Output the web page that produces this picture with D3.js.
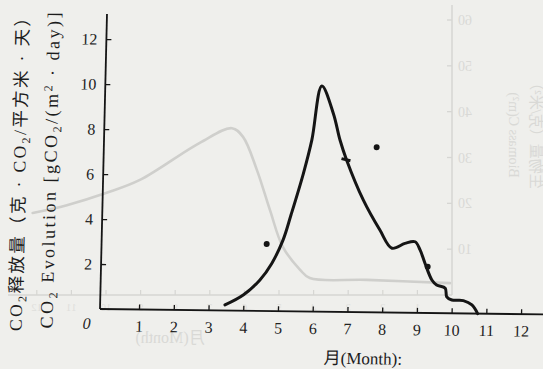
<!DOCTYPE html>
<html>
<head>
<meta charset="utf-8">
<script src="https://cdn.jsdelivr.net/npm/d3@7"></script>
<style>
  html, body { margin: 0; padding: 0; background: #efefec; }
  svg { display: block; }
</style>
</head>
<body>
<svg id="chart" width="543" height="369"></svg>
<script>
// CO2 evolution through the year (month, gCO2 per m² per day)
const evolutionMonths = [3.47, 3.99, 4.46, 4.79, 5.10, 5.31, 5.64, 5.86, 6.11, 6.46, 6.67, 6.87, 7.38, 7.88, 8.24, 8.61, 8.90, 9.05, 9.20, 9.41, 9.55, 9.80, 9.85, 10.0, 10.33, 10.58, 10.75];
const evolutionValues = [0.25, 0.70, 1.38, 2.12, 3.17, 4.28, 6.14, 7.63, 10.03, 8.82, 7.64, 6.77, 4.99, 3.66, 2.86, 3.08, 3.16, 2.80, 2.21, 1.47, 1.25, 1.11, 0.73, 0.59, 0.57, 0.38, 0.0];

// Separate single readings
const pointMonths = [4.63, 7.73, 9.28];
const pointValues = [2.98, 7.34, 2.06];

// Reading marked with a short bar across the curve
const markMonths = [6.87];
const markValues = [6.77];

const xTicks = [1, 2, 3, 4, 5, 6, 7, 8, 9, 10, 11, 12];
const yTicks = [2, 4, 6, 8, 10, 12];

// Faint show-through from the reverse page: biomass curve (mirrored month axis)
const backMonths = [12.12, 11.13, 9.98, 9.02, 7.29, 6.36, 6.04, 5.64, 5.26, 4.89, 4.39, 4.11, 2.46, 0.06];
const backValues = [17.9, 19.6, 22.3, 25.1, 33.2, 36.4, 34.5, 27.3, 18.5, 10.5, 5.5, 3.7, 3.3, 2.6];
const backYTicks = [10, 20, 30, 40, 50, 60];
const backXTicks = [1, 2, 3, 4, 5, 6, 7, 8, 9, 10, 11, 12];

const svg = d3.select("#chart");
const W = 543, H = 369;
const serif = "'Liberation Serif', 'DejaVu Serif', serif";
const cjk = "'Liberation Serif', 'Noto Sans CJK SC', serif";
const ink = "#151515";

svg.append("rect").attr("width", W).attr("height", H).attr("fill", "#efefec");

// ---------- show-through layer ----------
const ghost = svg.append("g").attr("class", "ghost");
const gx = d3.scaleLinear().domain([0, 12]).range([452, 452 - 12 * 34.6]);
const gy = d3.scaleLinear().domain([0, 60]).range([295, 20]);
const ghostLine = "#d6d6d3", ghostText = "#d9d9d6";

ghost.append("line").attr("x1", 8).attr("x2", gx(0)).attr("y1", gy(0)).attr("y2", gy(0))
  .attr("stroke", ghostLine).attr("stroke-width", 1.3);
ghost.append("line").attr("x1", gx(0)).attr("x2", gx(0)).attr("y1", 5).attr("y2", gy(0))
  .attr("stroke", ghostLine).attr("stroke-width", 1.5);

ghost.selectAll("line.gyt").data(backYTicks).join("line").attr("class", "gyt")
  .attr("x1", gx(0) - 5).attr("x2", gx(0)).attr("y1", d => gy(d)).attr("y2", d => gy(d))
  .attr("stroke", ghostLine).attr("stroke-width", 1.3);
ghost.selectAll("text.gyl").data(backYTicks).join("text").attr("class", "gyl")
  .attr("transform", d => `translate(${gx(0) + 6},${gy(d) + 5}) scale(-1,1)`)
  .attr("text-anchor", "end").attr("font-family", serif).attr("font-size", 14)
  .attr("fill", ghostText).text(d => d);

ghost.selectAll("line.gxt").data(backXTicks).join("line").attr("class", "gxt")
  .attr("x1", d => gx(d)).attr("x2", d => gx(d)).attr("y1", gy(0) - 5).attr("y2", gy(0))
  .attr("stroke", ghostLine).attr("stroke-width", 1.2);
ghost.selectAll("text.gxl").data(backXTicks).join("text").attr("class", "gxl")
  .attr("transform", d => `translate(${gx(d)},${gy(0) + 16}) scale(-1,1)`)
  .attr("text-anchor", "middle").attr("font-family", serif).attr("font-size", 11)
  .attr("fill", "#dfdfdc").text(d => d);

ghost.append("text").attr("transform", "translate(170,343) scale(-1,1)")
  .attr("text-anchor", "middle").attr("font-family", cjk).attr("font-size", 16)
  .attr("fill", ghostText).text("月(Month)");
ghost.append("text").attr("transform", "translate(509,135) rotate(-90) scale(1,-1)")
  .attr("text-anchor", "middle").attr("font-family", serif).attr("font-size", 14)
  .attr("fill", ghostText).text("Biomass C(m²)");
ghost.append("text").attr("transform", "translate(531,132) rotate(-90) scale(1,-1)")
  .attr("text-anchor", "middle").attr("font-family", cjk).attr("font-size", 15)
  .attr("fill", ghostText).text("生物量（克/米²）");

const ghostCurve = d3.line().x(d => gx(d[0])).y(d => gy(d[1])).curve(d3.curveCatmullRom.alpha(0.5));
ghost.append("path").datum(d3.zip(backMonths, backValues)).attr("d", ghostCurve)
  .attr("fill", "none").attr("stroke", "#cfcfcc").attr("stroke-width", 2.6)
  .attr("stroke-linecap", "round");

// ---------- main chart (hand-drawn frame sits slightly askew) ----------
const frame = svg.append("g")
  .attr("transform", "matrix(0.99993,0.0122,-0.0237,0.99972,100,309)");

const x = d3.scaleLinear().domain([0, 12]).range([4.3, 4.3 + 12 * 34.73]);
const y = d3.scaleLinear().domain([0, 12]).range([0, -270]);

frame.append("line").attr("x1", 0).attr("x2", 0).attr("y1", -295).attr("y2", 0)
  .attr("stroke", ink).attr("stroke-width", 1.8);
frame.append("line").attr("x1", 0).attr("x2", 460).attr("y1", 0).attr("y2", 0)
  .attr("stroke", ink).attr("stroke-width", 1.8);

const xAxis = d3.axisBottom(x).tickValues(xTicks).tickSize(-5).tickPadding(11).tickFormat(d3.format("d"));
const gX = frame.append("g").call(xAxis);
const yAxis = d3.axisLeft(y).tickValues(yTicks).tickSize(-5).tickPadding(9).tickFormat(d3.format("d"));
const gY = frame.append("g").call(yAxis);
[gX, gY].forEach(g => {
  g.select(".domain").remove();
  g.selectAll(".tick line").attr("stroke", ink).attr("stroke-width", 1.3);
  g.selectAll(".tick text").attr("fill", "#222").attr("font-family", serif).attr("font-size", 16);
});

// origin label
frame.append("text").attr("x", -13).attr("y", 20).attr("text-anchor", "middle")
  .attr("font-family", serif).attr("font-style", "italic").attr("font-size", 16)
  .attr("fill", "#222").text("0");

// axis titles
frame.append("text").attr("x", 264).attr("y", 52).attr("text-anchor", "middle")
  .attr("font-family", cjk).attr("font-size", 17).attr("fill", "#1c1c1c").text("月(Month):");

function fitTitle(t, target, maxSize) {
  const base = +t.attr("font-size");
  const len = t.node().getComputedTextLength();
  const size = Math.min(maxSize, base * target / len);
  t.attr("font-size", size);
  t.selectAll("tspan.sub").attr("font-size", size * 0.68);
  t.attr("textLength", target).attr("lengthAdjust", "spacing");
}

const t1 = frame.append("text").attr("transform", "translate(-78,-138) rotate(-90)")
  .attr("text-anchor", "middle").attr("font-family", cjk).attr("font-size", 16)
  .attr("fill", "#1c1c1c");
t1.append("tspan").text("CO");
t1.append("tspan").attr("class", "sub").attr("font-size", 11).attr("dy", 4).text("2");
t1.append("tspan").attr("dy", -4).text("释放量（克 · CO");
t1.append("tspan").attr("class", "sub").attr("font-size", 11).attr("dy", 4).text("2");
t1.append("tspan").attr("dy", -4).text("/平方米 · 天）");
fitTitle(t1, 322, 17.5);

const t2 = frame.append("text").attr("transform", "translate(-47,-138) rotate(-90)")
  .attr("text-anchor", "middle").attr("font-family", serif).attr("font-size", 17)
  .attr("fill", "#1c1c1c");
t2.append("tspan").text("CO");
t2.append("tspan").attr("class", "sub").attr("font-size", 11).attr("dy", 4).text("2");
t2.append("tspan").attr("dy", -4).text("  Evolution  [gCO");
t2.append("tspan").attr("class", "sub").attr("font-size", 11).attr("dy", 4).text("2");
t2.append("tspan").attr("dy", -4).text("/(m");
t2.append("tspan").attr("class", "sub").attr("font-size", 11).attr("dy", -6).text("2");
t2.append("tspan").attr("dy", 6).text(" · day)]");
fitTitle(t2, 316, 18);

// evolution curve
const curve = d3.line().x(d => x(d[0])).y(d => y(d[1])).curve(d3.curveCatmullRom.alpha(0.5));
frame.append("path").datum(d3.zip(evolutionMonths, evolutionValues)).attr("d", curve)
  .attr("fill", "none").attr("stroke", ink).attr("stroke-width", 3)
  .attr("stroke-linejoin", "round").attr("stroke-linecap", "round");

// single readings
frame.selectAll("circle.pt").data(d3.zip(pointMonths, pointValues)).join("circle").attr("class", "pt")
  .attr("cx", d => x(d[0])).attr("cy", d => y(d[1])).attr("r", 3).attr("fill", ink);

frame.selectAll("line.mk").data(d3.zip(markMonths, markValues)).join("line").attr("class", "mk")
  .attr("x1", d => x(d[0]) - 5).attr("x2", d => x(d[0]) + 4)
  .attr("y1", d => y(d[1]) - 1).attr("y2", d => y(d[1]) + 1)
  .attr("stroke", ink).attr("stroke-width", 3);
</script>
</body>
</html>
